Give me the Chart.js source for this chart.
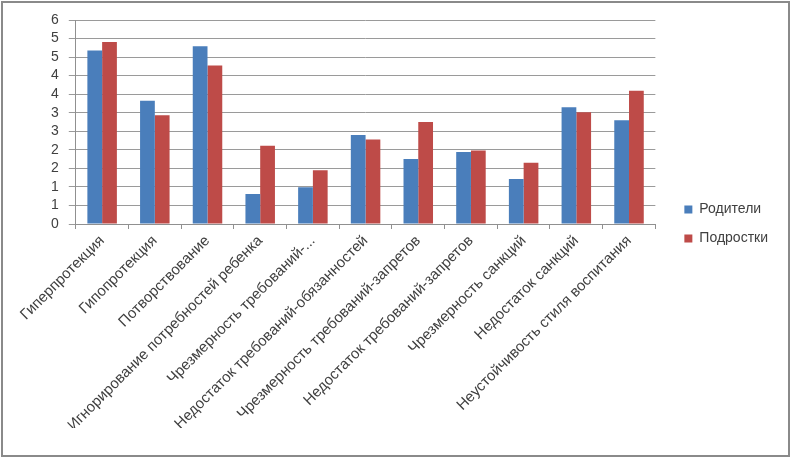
<!DOCTYPE html>
<html>
<head>
<meta charset="utf-8">
<script src="https://cdn.jsdelivr.net/npm/chart.js@4/dist/chart.umd.min.js"></script>
<style>
  html, body { margin: 0; padding: 0; background: #fff; }
  #wrap { width: 791px; height: 458px; }
</style>
</head>
<body>
<div id="wrap"><canvas id="bar-chart"></canvas></div>
<script>
const categories = [
  'Гиперпротекция',
  'Гипопротекция',
  'Потворствование',
  'Игнорирование потребностей ребенка',
  'Чрезмерность требований-...',
  'Недостаток требований-обязанностей',
  'Чрезмерность требований-запретов',
  'Недостаток требований-запретов',
  'Чрезмерность санкций',
  'Недостаток санкций',
  'Неустойчивость стиля воспитания'
]
const parents = [4.68, 3.32, 4.79, 0.81, 0.99, 2.40, 1.75, 1.94, 1.21, 3.15, 2.80]
const teens = [4.91, 2.93, 4.27, 2.11, 1.45, 2.28, 2.75, 1.98, 1.65, 3.01, 3.59]
const seriesNames = ['Родители', 'Подростки']

// thin gray frame around the whole chart, like the Excel chart area
const frame = {
  id: 'frame',
  afterLayout(chart) {
    // push the legend a bit to the right, leaves a wider gap after the plot
    chart.legend.left += 14
    chart.legend.right += 14
  },
  afterDraw(chart) {
    const ctx = chart.ctx
    ctx.save()
    ctx.strokeStyle = '#8a8a8a'
    ctx.lineWidth = 2
    ctx.strokeRect(2, 2, chart.width - 4, chart.height - 4)
    ctx.restore()
  }
}

const txt = '#404040'

const myChart = new Chart(document.getElementById('bar-chart'), {
  type: 'bar',
  data: {
    labels: categories,
    datasets: [
      { label: seriesNames[0], backgroundColor: '#4a7ebb', data: parents },
      { label: seriesNames[1], backgroundColor: '#be4b48', data: teens }
    ]
  },
  options: {
    responsive: true,
    maintainAspectRatio: false,
    animation: false,
    layout: { padding: { left: 41, right: 27, top: 20, bottom: 30 } },
    datasets: { bar: { categoryPercentage: 0.56, barPercentage: 1.0 } },
    plugins: {
      legend: {
        display: true,
        position: 'right',
        labels: {
          boxWidth: 8,
          boxHeight: 8,
          padding: 15,
          color: txt,
          font: { family: 'Liberation Sans', size: 14 }
        }
      },
      tooltip: { enabled: false }
    },
    scales: {
      x: {
        grid: { display: true, drawOnChartArea: false, drawTicks: true, tickLength: 5, color: '#909090', offset: true },
        border: { color: '#909090' },
        ticks: {
          minRotation: 45,
          maxRotation: 45,
          autoSkip: false,
          color: txt,
          font: { family: 'Liberation Sans', size: 15 }
        }
      },
      y: {
        min: 0,
        max: 5.5,
        grid: { color: '#9a9a9a', tickLength: 7 },
        border: { color: '#909090' },
        ticks: {
          stepSize: 0.5,
          autoSkip: false,
          color: txt,
          padding: 10,
          font: { family: 'Liberation Sans', size: 14 },
          callback: (v) => Math.round(v)
        }
      }
    }
  },
  plugins: [frame]
})
</script>
</body>
</html>
